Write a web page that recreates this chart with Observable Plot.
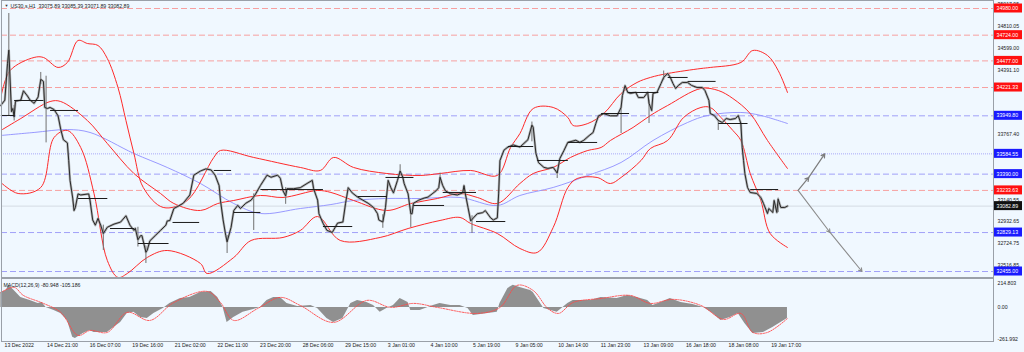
<!DOCTYPE html>
<html><head><meta charset="utf-8">
<script src="https://cdn.jsdelivr.net/npm/d3@7"></script>
<script src="https://cdn.jsdelivr.net/npm/@observablehq/plot@0.6"></script>
<style>
html,body{margin:0;padding:0;background:#f0f8ff;}
#chart{width:1024px;height:352px;overflow:hidden;}
#chart svg{display:block;}
</style></head><body><div id="chart"></div>
<script>
// ---------- data ----------
const symbolTitle = "US30.s,H1  33075.89 33085.39 33071.89 33082.89";
const macdTitle = "MACD(12,26,9) -80.948 -105.186";

const timeTickIndex = [0,32,64,96,128,160,192,224,256,288,320,352,384,416,448,480,512,544,576];
const timeLabels = ["13 Dec 2022","14 Dec 21:00","16 Dec 07:00","19 Dec 16:00","21 Dec 02:00","22 Dec 11:00","23 Dec 20:00","28 Dec 06:00","29 Dec 15:00","3 Jan 01:00","4 Jan 10:00","5 Jan 19:00","9 Jan 05:00","10 Jan 14:00","11 Jan 23:00","13 Jan 09:00","16 Jan 18:00","18 Jan 08:00","19 Jan 17:00"];

const priceTicks = [35017.95,34810.05,34599.00,34391.10,33767.40,33140.55,32932.65,32724.75,32516.85];

const redLevels = [34980.00,34724.00,34477.00,34221.33,33233.63];
const blueLevels = [33949.80,33390.00,32829.13,32455.00];
const dottedLevels = [33584.55];
const lastPrice = 33082.89;

// [bar index, close]
const closes = [[-2,34050],[1,34100],[3,34450],[4,34580],[6,33990],[7,34020],[8,33940],[9,34090],[13,34100],[15,34190],[18,34140],[20,34100],[23,34070],[26,34130],[28,34300],[30,34280],[31,34030],[33,34020],[35,34030],[38,34010],[41,33950],[43,33820],[45,33720],[48,33690],[49,33520],[50,33330],[52,33160],[53,33040],[54,33070],[56,33200],[58,33190],[64,33200],[65,33140],[67,32950],[69,32900],[71,32965],[73,32900],[75,32820],[78,32880],[83,32910],[88,32930],[92,32990],[95,32900],[98,32850],[99,32870],[101,32760],[103,32800],[104,32800],[107,32640],[108,32660],[110,32750],[114,32800],[118,32850],[122,32900],[123,32940],[125,32945],[128,33060],[131,33080],[135,33110],[140,33190],[143,33380],[148,33420],[152,33440],[156,33430],[159,33380],[162,33280],[163,33140],[165,32950],[167,32800],[168,32740],[171,32880],[173,33040],[176,33090],[178,33060],[182,33110],[186,33140],[189,33190],[193,33280],[197,33360],[198,33380],[201,33360],[206,33380],[208,33350],[210,33230],[212,33180],[213,33250],[218,33250],[223,33260],[228,33300],[232,33330],[233,33250],[236,33140],[237,33010],[240,32920],[243,32850],[247,32830],[251,32920],[255,32930],[257,33110],[259,33260],[262,33210],[266,33170],[270,33140],[274,33110],[278,33070],[281,33010],[282,32950],[285,32930],[287,33070],[289,33330],[291,33260],[293,33210],[296,33330],[298,33420],[300,33360],[301,33300],[304,33200],[306,33010],[307,33010],[308,33110],[312,33140],[316,33160],[319,33170],[322,33200],[325,33230],[327,33260],[328,33360],[330,33280],[332,33230],[336,33200],[341,33190],[345,33210],[346,33280],[347,33200],[349,33070],[351,32940],[353,32970],[356,33010],[360,33020],[362,33040],[366,32970],[368,32950],[371,32970],[372,33200],[373,33520],[376,33620],[379,33650],[383,33670],[388,33650],[394,33720],[397,33860],[398,33840],[400,33590],[402,33500],[406,33455],[409,33445],[413,33455],[416,33400],[418,33540],[421,33615],[424,33695],[430,33715],[433,33695],[436,33715],[440,33760],[443,33790],[445,33875],[447,33950],[451,33970],[456,33950],[461,33950],[464,34030],[465,34145],[467,34240],[469,34175],[471,34165],[475,34175],[477,34125],[481,34125],[484,34175],[485,34070],[487,34000],[488,34165],[491,34175],[494,34260],[496,34318],[499,34356],[501,34318],[503,34260],[505,34212],[507,34241],[510,34270],[514,34270],[517,34241],[521,34222],[525,34222],[527,34193],[530,34097],[531,33972],[534,33953],[537,33905],[540,33886],[543,33924],[546,33914],[550,33924],[552,33953],[554,33876],[555,33646],[556,33521],[557,33396],[559,33262],[561,33214],[566,33204],[569,33166],[571,33108],[574,33012],[575,33060],[578,33022],[579,33137],[581,33022],[582,33150],[584,33070],[587,33070],[589,33083]];

// [bar index, low, high]
const wicks = [[4,33950,34932],[8,33900,34050],[28,34250,34366],[32,33690,34330],[75,32657,32900],[101,32690,32880],[107,32532,32700],[168,32628,32800],[188,32849,33200],[212,33100,33260],[285,32870,33000],[298,33400,33480],[306,32878,33050],[328,33330,33400],[352,32820,32990],[397,33700,33890],[416,33348,33420],[464,33780,34030],[485,33876,34100],[496,34290,34380],[537,33809,33910],[582,33020,33160]];

// daily open segments [from index, to index, price]
const dailyOpens = [[-2,8,33953],[8,30,34097],[35,56,34001],[56,78,33156],[80,98,32868],[101,124,32724],[127,147,32926],[158,171,33425],[173,193,33022],[193,240,33242],[240,262,32887],[266,288,33175],[287,308,33358],[308,331,33089],[330,355,33214],[355,377,32935],[379,398,33655],[401,424,33521],[424,446,33694],[449,470,33972],[469,492,34174],[499,514,34318],[514,535,34280],[537,559,33876],[561,582,33242]];

const bbUpper = [[-2,34126],[5,34385],[23,34510],[30,34510],[41,34414],[48,34462],[56,34673],[63,34644],[71,34625],[78,34500],[86,34222],[92,33905],[98,33588],[105,33262],[120,33070],[138,33137],[158,33550],[163,33617],[188,33550],[223,33454],[238,33425],[248,33550],[263,33454],[288,33396],[313,33377],[328,33396],[351,33425],[371,33377],[381,33646],[388,33780],[398,34020],[413,34030],[424,33934],[428,33857],[439,33876],[451,33972],[464,34164],[476,34270],[486,34318],[499,34356],[524,34404],[531,34414],[554,34462],[563,34577],[574,34529],[582,34385],[589,34174]];
const bbMiddle = [[-2,33809],[13,33924],[35,34087],[43,34087],[63,33905],[78,33684],[98,33396],[118,33204],[128,33108],[148,33041],[161,33108],[173,33137],[193,33185],[210,33166],[236,33233],[246,33214],[263,33137],[288,33041],[306,33108],[326,33156],[343,33204],[356,33166],[371,33108],[388,33300],[398,33396],[413,33454],[426,33550],[439,33617],[449,33646],[456,33713],[473,33838],[486,33953],[499,34049],[524,34212],[537,34193],[548,34116],[561,33972],[574,33713],[589,33444]];
const bbLower = [[-2,33310],[11,33204],[28,33262],[38,33742],[48,33809],[58,33646],[68,33204],[78,32561],[86,32398],[93,32436],[108,32590],[123,32657],[148,32532],[153,32436],[173,32590],[186,32753],[210,32782],[223,32849],[236,32983],[253,32753],[283,32782],[304,32868],[328,32945],[343,32974],[351,32916],[371,32820],[388,32676],[401,32638],[413,32878],[424,33262],[431,33348],[446,33358],[456,33300],[464,33358],[479,33521],[486,33636],[499,33713],[511,33934],[524,34030],[531,34030],[539,33934],[548,33809],[554,33713],[561,33396],[569,33137],[576,32820],[589,32686]];
const maSlow = [[-2,33761],[23,33790],[48,33818],[65,33790],[98,33588],[123,33454],[148,33300],[173,33108],[193,33012],[223,33060],[246,33098],[263,33137],[288,33156],[313,33156],[343,33166],[371,33089],[388,33185],[413,33262],[439,33377],[464,33502],[488,33713],[514,33886],[529,33953],[554,33982],[569,33953],[589,33876]];

// forecast arrows [index, price]
const forecastStart = [597,33233.63];
const forecastUpMid = [605,33358];
const forecastUpEnd = [617,33584.55];
const forecastDownMid = [621,32830];
const forecastDownEnd = [645,32455.00];

// MACD
const macdHist = [[-2,115],[2,130],[4,170],[8,130],[13,77],[20,54],[26,31],[29,38],[32,0],[38,-23],[43,-46],[48,-100],[52,-230],[54,-238],[60,-200],[65,-177],[68,-192],[73,-192],[78,-192],[83,-154],[88,-115],[93,-46],[98,-38],[103,-77],[108,-85],[113,-46],[120,-8],[125,31],[133,69],[140,77],[148,115],[156,123],[161,77],[165,0],[168,-115],[173,-77],[180,-38],[188,-15],[193,0],[198,54],[203,77],[208,77],[213,31],[221,8],[231,15],[236,-8],[243,-85],[248,-115],[255,-85],[261,31],[266,54],[273,38],[278,15],[283,-38],[288,-8],[293,15],[298,69],[304,38],[306,-23],[313,-23],[323,15],[328,31],[336,15],[343,15],[349,-8],[353,-62],[364,-46],[371,-38],[373,31],[379,146],[383,170],[388,154],[396,130],[398,115],[406,-8],[416,-38],[424,31],[428,54],[441,54],[449,77],[461,69],[469,92],[476,77],[484,54],[488,15],[494,38],[501,69],[509,38],[518,23],[526,0],[533,-46],[539,-100],[546,-77],[552,-46],[557,-123],[563,-200],[571,-192],[578,-154],[589,-85]];
const macdSignal = [[-2,115],[8,154],[15,92],[30,31],[43,-38],[56,-215],[65,-177],[78,-192],[93,-38],[110,-100],[128,38],[153,123],[163,38],[173,-100],[191,-8],[208,77],[223,15],[248,-115],[273,54],[291,0],[308,31],[326,0],[356,-46],[373,0],[386,170],[398,130],[409,-8],[417,-46],[428,38],[449,69],[471,92],[486,31],[503,62],[524,15],[541,-92],[554,-46],[563,-192],[574,-192],[589,-85]];
const macdMax = 214.803, macdMin = -261.992;

// ---------- drawing ----------
const xDomain = [-1.5, 743.8];
const font = "'Liberation Sans', Arial, sans-serif";
const X = d => d[0], Y = d => d[1];

const levelBoxes = [
  ...redLevels.map(v => ({v, c: "#ff1010"})),
  ...blueLevels.map(v => ({v, c: "#1a1aff"})),
  ...dottedLevels.map(v => ({v, c: "#1a1aff"})),
  {v: lastPrice, c: "#111111"}
];

const main = Plot.plot({
  width: 1024, height: 277,
  marginLeft: 1, marginRight: 31, marginTop: 0, marginBottom: 0,
  style: {background: "transparent", fontFamily: font, fontSize: "5.2px", overflow: "visible"},
  x: {domain: xDomain, axis: null},
  y: {domain: [32397.6, 35056.8], axis: null},
  marks: [
    Plot.ruleY([lastPrice], {stroke: "#d4dbe3", strokeWidth: 1}),
    Plot.ruleY(redLevels, {stroke: "#f7a0a0", strokeDasharray: "6,3"}),
    Plot.ruleY(blueLevels, {stroke: "#a0a0f8", strokeDasharray: "6,3"}),
    Plot.ruleY(dottedLevels, {stroke: "#a8a8f8", strokeDasharray: "1,1"}),
    Plot.line(maSlow, {x: X, y: Y, stroke: "#8f8fff", strokeWidth: 0.9, curve: "catmull-rom", clip: true}),
    Plot.line(bbUpper, {x: X, y: Y, stroke: "#ff2a2a", strokeWidth: 1, curve: "catmull-rom", clip: true}),
    Plot.line(bbMiddle, {x: X, y: Y, stroke: "#ff2a2a", strokeWidth: 1, curve: "catmull-rom", clip: true}),
    Plot.line(bbLower, {x: X, y: Y, stroke: "#ff2a2a", strokeWidth: 1, curve: "catmull-rom", clip: true}),
    Plot.ruleX(wicks, {x: X, y1: d => d[1], y2: d => d[2], stroke: "#707070", strokeWidth: 1}),
    Plot.line(closes, {x: X, y: Y, stroke: "#9a9a9a", strokeWidth: 2.4, strokeOpacity: 0.75}),
    Plot.line(closes, {x: X, y: Y, stroke: "#2a2a2a", strokeWidth: 1}),
    Plot.link(dailyOpens, {x1: d => d[0], x2: d => d[1], y1: d => d[2], y2: d => d[2], stroke: "#1a1a1a", strokeWidth: 1}),
    Plot.arrow([[forecastStart, forecastUpMid], [forecastUpMid, forecastUpEnd]], {x1: d => d[0][0], y1: d => d[0][1], x2: d => d[1][0], y2: d => d[1][1], stroke: "#7c7c7c", strokeWidth: 1.2, headLength: 5}),
    Plot.arrow([[forecastStart, forecastDownMid], [forecastDownMid, forecastDownEnd]], {x1: d => d[0][0], y1: d => d[0][1], x2: d => d[1][0], y2: d => d[1][1], stroke: "#8c8c8c", strokeWidth: 1.1, headLength: 5}),
    Plot.frame({stroke: "#9aa0a8"}),
    Plot.text(priceTicks, {y: d => d, text: d => d.toFixed(2), frameAnchor: "right", textAnchor: "start", dx: 4, fill: "#222"}),
    Plot.rect(levelBoxes, {x1: () => xDomain[1], x2: () => xDomain[1], y1: d => d.v, y2: d => d.v, insetLeft: 1, insetRight: -29, insetTop: -4.5, insetBottom: -4.5, fill: d => d.c}),
    Plot.text(levelBoxes, {y: d => d.v, text: d => d.v.toFixed(2), frameAnchor: "right", textAnchor: "start", dx: 3, fill: "white"}),
    Plot.text(["\u25BC"], {frameAnchor: "top-left", dx: 3, dy: 4, text: d => d, fill: "#333", fontSize: 4}),
    Plot.text([symbolTitle], {frameAnchor: "top-left", dx: 9, dy: 4, text: d => d, textAnchor: "start", fill: "#222"})
  ]
});

const timeTicks = timeTickIndex.map((i, k) => ({i, t: timeLabels[k]}));

const macd = Plot.plot({
  width: 1024, height: 75,
  marginLeft: 1, marginRight: 31, marginTop: 2, marginBottom: 11,
  style: {background: "transparent", fontFamily: font, fontSize: "5.2px", overflow: "visible"},
  x: {domain: xDomain, axis: null},
  y: {domain: [macdMin, macdMax], axis: null},
  marks: [
    Plot.areaY(macdHist, {x: X, y: Y, fill: "#8a8a8a", fillOpacity: 0.95}),
    Plot.line(macdSignal, {x: X, y: Y, stroke: "#ff4a4a", strokeWidth: 0.9, strokeDasharray: "1.5,1.2", curve: "catmull-rom"}),
    Plot.frame({stroke: "#9aa0a8", insetTop: -1}),
    Plot.text([macdTitle], {frameAnchor: "top-left", dx: 2, dy: 4, text: d => d, textAnchor: "start", fill: "#222"}),
    Plot.text([macdMax], {y: d => d, text: d => d.toFixed(3), frameAnchor: "right", textAnchor: "start", dx: 4, dy: 4, fill: "#222"}),
    Plot.text([0], {y: d => d, text: d => d.toFixed(2), frameAnchor: "right", textAnchor: "start", dx: 4, fill: "#222"}),
    Plot.text([macdMin], {y: d => d, text: d => d.toFixed(3), frameAnchor: "right", textAnchor: "start", dx: 4, dy: -2, fill: "#222"}),
    Plot.text(timeTicks, {x: "i", text: "t", frameAnchor: "bottom", textAnchor: "start", dx: 1, dy: 5.5, fill: "#222"})
  ]
});

const el = document.getElementById("chart");
el.appendChild(main);
el.appendChild(macd);
</script></body></html>
